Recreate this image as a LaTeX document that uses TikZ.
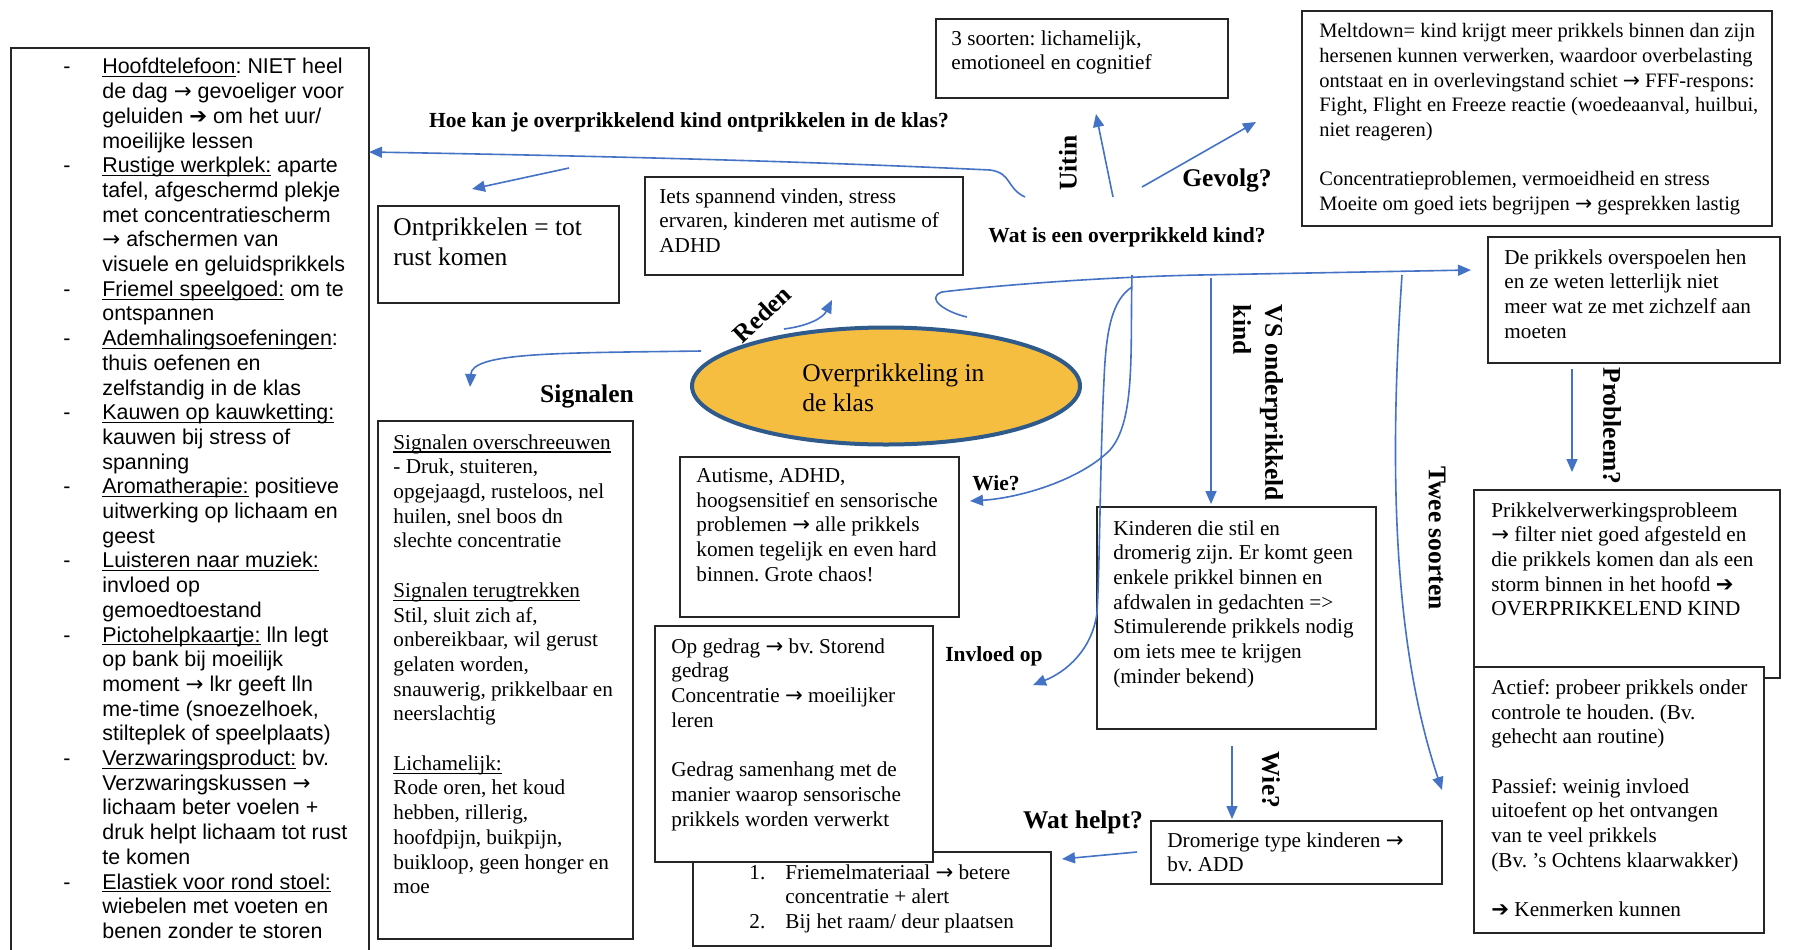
\documentclass[tikz,border=0pt]{standalone}
\usepackage{fontspec}
\setmainfont{Liberation Serif}
\newfontfamily\arialf{Liberation Sans}
\newfontfamily\dvf{DejaVu Sans}
\usetikzlibrary{arrows.meta,shapes.geometric}
\definecolor{arrowblue}{HTML}{4472C4}
\definecolor{ellfill}{HTML}{F6BE41}
\definecolor{elldraw}{HTML}{2F5A8C}
\newcommand\myul[1]{\setbox0\hbox{#1}\leavevmode\rlap{\rule[-1.7pt]{\wd0}{0.55pt}}\box0\relax}
\newcommand\rarr{{\dvf\char"2192}}
\newcommand\Rarr{{\dvf\char"2794}}
\newcommand\dsh{\makebox[19.5pt][l]{-}}
\newcommand\tind{\hspace*{19.5pt}}
\newcommand\rbox[5]{\node[box,anchor=north west,inner sep=0pt,outer sep=0pt,minimum width={(#4-#2)*0.5pt},minimum height={(#5-#3)*0.5pt}] (#1) at (#2,#3) {};}
\frenchspacing
\begin{document}
\begin{tikzpicture}[x=0.5pt,y=-0.5pt,
  box/.style={draw=black!85,line width=0.65pt,fill=white},
  txt/.style={anchor=north west,align=left,inner sep=0pt,font=\fontsize{10.6}{12.35}\selectfont},
  lbl/.style={inner sep=0pt,font=\bfseries\fontsize{10.75}{12.6}\selectfont},
  big/.style={inner sep=0pt,font=\bfseries\fontsize{12.75}{16}\selectfont},
  arr/.style={draw=arrowblue,line width=0.8pt,-{Triangle[length=6.5pt,width=5.5pt]}}]
\useasboundingbox (0,0) rectangle (1795,949);
\clip (0,0) rectangle (1795,949);
\fill[white] (0,0) rectangle (1795,949);

% ---------- boxes ----------
\rbox{tipsbox}{11}{48}{369}{962}
\rbox{ontbox}{378}{206}{619}{303}
\rbox{redbox}{645}{177}{963}{275}
\rbox{sigbox}{378}{421}{633}{939}
\rbox{wiebox}{680}{457}{959}{617}
\rbox{helpbox}{693}{852}{1051}{946}
\rbox{invbox}{655}{626}{933}{862}
\rbox{soortbox}{936}{19}{1228}{98}
\rbox{meltbox}{1302}{11}{1772}{226}
\rbox{spoelbox}{1488}{237}{1780}{363}
\rbox{kindbox}{1097}{507}{1376}{729}
\rbox{adbox}{1151}{821}{1442}{884}
\rbox{probbox}{1474}{490}{1780}{678}
\rbox{actbox}{1474}{667}{1764}{933}

% ---------- central ellipse ----------
\node[ellipse,draw=elldraw,line width=2pt,fill=ellfill,minimum width=194pt,minimum height=58.5pt,inner sep=0pt] (core) at (886,386) {};
\node[txt,font=\fontsize{12.75}{15}\selectfont] (coretxt) at (802,363) {Overprikkeling in\\de klas};

% ---------- box texts ----------
\node[txt,font=\arialf\fontsize{10.7}{12.35}\selectfont] (tips) at (63,58) {%
\dsh\myul{Hoofdtelefoon}: NIET heel\\
\tind de dag \rarr\ gevoeliger voor\\
\tind geluiden \Rarr\ om het uur/\\
\tind moeilijke lessen\\
\dsh\myul{Rustige werkplek:} aparte\\
\tind tafel, afgeschermd plekje\\
\tind met concentratiescherm\\
\tind \rarr\ afschermen van\\
\tind visuele en geluidsprikkels\\
\dsh\myul{Friemel speelgoed:} om te\\
\tind ontspannen\\
\dsh\myul{Ademhalingsoefeningen}:\\
\tind thuis oefenen en\\
\tind zelfstandig in de klas\\
\dsh\myul{Kauwen op kauwketting:}\\
\tind kauwen bij stress of\\
\tind spanning\\
\dsh\myul{Aromatherapie:} positieve\\
\tind uitwerking op lichaam en\\
\tind geest\\
\dsh\myul{Luisteren naar muziek:}\\
\tind invloed op\\
\tind gemoedtoestand\\
\dsh\myul{Pictohelpkaartje:} lln legt\\
\tind op bank bij moeilijk\\
\tind moment \rarr\ lkr geeft lln\\
\tind me-time (snoezelhoek,\\
\tind stilteplek of speelplaats)\\
\dsh\myul{Verzwaringsproduct:} bv.\\
\tind Verzwaringskussen \rarr\\
\tind lichaam beter voelen +\\
\tind druk helpt lichaam tot rust\\
\tind te komen\\
\dsh\myul{Elastiek voor rond stoel:}\\
\tind wiebelen met voeten en\\
\tind benen zonder te storen};

\node[txt,font=\fontsize{12.75}{15}\selectfont] (onttxt) at (393,217) {Ontprikkelen = tot\\rust komen};

\node[txt] (redtxt) at (659,188) {Iets spannend vinden, stress\\ervaren, kinderen met autisme of\\ADHD};

\node[txt] (sigtxt) at (393,434) {\myul{Signalen overschreeuwen}\\
- Druk, stuiteren,\\
opgejaagd, rusteloos, nel\\
huilen, snel boos dn\\
slechte concentratie\\[12.35pt]
\myul{Signalen terugtrekken}\\
Stil, sluit zich af,\\
onbereikbaar, wil gerust\\
gelaten worden,\\
snauwerig, prikkelbaar en\\
neerslachtig\\[12.35pt]
\myul{Lichamelijk:}\\
Rode oren, het koud\\
hebben, rillerig,\\
hoofdpijn, buikpijn,\\
buikloop, geen honger en\\
moe};

\node[txt] (wietxt) at (696,468) {Autisme, ADHD,\\hoogsensitief en sensorische\\problemen \rarr\ alle prikkels\\komen tegelijk en even hard\\binnen. Grote chaos!};

\node[txt] (helptxt) at (749,864) {\makebox[18pt][l]{1.}Friemelmateriaal \rarr\ betere\\\hspace*{18pt}concentratie + alert\\\makebox[18pt][l]{2.}Bij het raam/ deur plaatsen};

\node[txt] (invtxt) at (671,638) {Op gedrag \rarr\ bv. Storend\\gedrag\\Concentratie \rarr\ moeilijker\\leren\\[12.35pt]Gedrag samenhang met de\\manier waarop sensorische\\prikkels worden verwerkt};

\node[txt] (soorttxt) at (951,30) {3 soorten: lichamelijk,\\emotioneel en cognitief};

\node[txt,font=\fontsize{10.25}{12.35}\selectfont] (melttxt) at (1319,23) {Meltdown= kind krijgt meer prikkels binnen dan zijn\\
hersenen kunnen verwerken, waardoor overbelasting\\
ontstaat en in overlevingstand schiet \rarr\ FFF-respons:\\
Fight, Flight en Freeze reactie (woedeaanval, huilbui,\\
niet reageren)\\[12.35pt]
Concentratieproblemen, vermoeidheid en stress\\
Moeite om goed iets begrijpen \rarr\ gesprekken lastig};

\node[txt] (spoeltxt) at (1504,249) {De prikkels overspoelen hen\\en ze weten letterlijk niet\\meer wat ze met zichzelf aan\\moeten};

\node[txt] (kindtxt) at (1113,520) {Kinderen die stil en\\dromerig zijn. Er komt geen\\enkele prikkel binnen en\\afdwalen in gedachten =>\\Stimulerende prikkels nodig\\om iets mee te krijgen\\(minder bekend)};

\node[txt] (adtxt) at (1167,832) {Dromerige type kinderen \rarr\\bv. ADD};

\node[txt] (probtxt) at (1491,502) {Prikkelverwerkingsprobleem\\\rarr\ filter niet goed afgesteld en\\die prikkels komen dan als een\\storm binnen in het hoofd \Rarr\\OVERPRIKKELEND KIND};

\node[txt] (acttxt) at (1491,679) {Actief: probeer prikkels onder\\controle te houden. (Bv.\\gehecht aan routine)\\[12.35pt]Passief: weinig invloed\\uitoefent op het ontvangen\\van te veel prikkels\\(Bv. ’s Ochtens klaarwakker)\\[12.35pt]\Rarr\ Kenmerken kunnen};

% ---------- labels ----------
\node[lbl] (qhoe) at (689,122) {Hoe kan je overprikkelend kind ontprikkelen in de klas?};
\node[lbl] (qwat) at (1127,237) {Wat is een overprikkeld kind?};
\node[lbl] (qwie) at (996,483) {Wie?};
\node[lbl] (qinv) at (994,656) {Invloed op};
\node[big] (qsig) at (587,396) {Signalen};
\node[big] (qgev) at (1227,180) {Gevolg?};
\node[big] (qhelp) at (1083,822) {Wat helpt?};
\node[big,rotate=90] (quit) at (1068,163) {Uitin};
\node[big,rotate=43] (qred) at (762,314) {Reden};
\node[big,rotate=-90,align=left] (qvs) at (1258,403) {VS onderprikkeld\\kind};
\node[big,rotate=-90] (qtwee) at (1437,538) {Twee soorten};
\node[big,rotate=-90] (qprob) at (1612,426) {Probleem?};
\node[big,rotate=-90] (qwie2) at (1271,780) {Wie?};

% ---------- connector end points ----------
\coordinate (hoeS) at (1025,197);
\coordinate (hoeT) at (369,152);
\coordinate (ontS) at (569,168);
\coordinate (ontT) at (472,189);
\coordinate (redS) at (784,329);
\coordinate (redT) at (832,300);
\coordinate (sigS) at (701,351);
\coordinate (sigT) at (470,387);
\coordinate (hubA) at (1132,275);
\coordinate (hubB) at (1132,287);
\coordinate (wieT) at (970,501);
\coordinate (invT) at (1033,685);
\coordinate (watS) at (967,317);
\coordinate (spoelT) at (1471,270);
\coordinate (uitS) at (1113,197);
\coordinate (uitT) at (1096,114);
\coordinate (gevS) at (1142,187);
\coordinate (gevT) at (1256,122);
\coordinate (vsS) at (1211,278);
\coordinate (vsT) at (1211,504);
\coordinate (tweeS) at (1402,275);
\coordinate (tweeT) at (1442,790);
\coordinate (probS) at (1572,369);
\coordinate (probT) at (1572,472);
\coordinate (wie2S) at (1232,746);
\coordinate (wie2T) at (1232,819);
\coordinate (helpS) at (1137,852);
\coordinate (helpT) at (1062,859);

% ---------- connectors ----------
\draw[arr] (hoeS) .. controls (1006,188) and (1012,173) .. (990,170) .. controls (800,161) and (600,156) .. (hoeT);
\draw[arr] (ontS) -- (ontT);
\draw[arr] (redS) .. controls (808,326) and (823,318) .. (redT);
\draw[arr] (sigS) .. controls (560,353) and (472,352) .. (sigT);
\draw[arr] (watS) .. controls (945,312) and (925,298) .. (942,292) .. controls (990,286) and (1100,277) .. (1200,275) -- (spoelT);
\draw[arr] (hubA) .. controls (1130,350) and (1136,420) .. (1110,450) .. controls (1080,480) and (1020,498) .. (wieT);
\draw[arr] (hubB) .. controls (1112,300) and (1106,330) .. (1104,380) .. controls (1100,460) and (1100,560) .. (1097,613) .. controls (1092,650) and (1066,672) .. (invT);
\draw[arr] (uitS) -- (uitT);
\draw[arr] (gevS) -- (gevT);
\draw[arr] (vsS) -- (vsT);
\draw[arr] (tweeS) .. controls (1388,480) and (1395,650) .. (tweeT);
\draw[arr] (probS) -- (probT);
\draw[arr] (wie2S) -- (wie2T);
\draw[arr] (helpS) -- (helpT);
\end{tikzpicture}
\end{document}
